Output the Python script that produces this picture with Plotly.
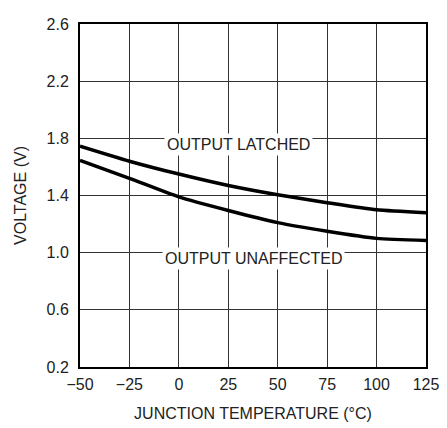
import plotly.graph_objects as go

temps = [-50, -25, 0, 25, 50, 75, 100, 125]
latched = [1.745, 1.64, 1.55, 1.47, 1.405, 1.35, 1.30, 1.28]
unaffected = [1.645, 1.52, 1.39, 1.295, 1.21, 1.15, 1.10, 1.085]
x_ticks = [-50, -25, 0, 25, 50, 75, 100, 125]
x_labels = ["\u221250", "\u221225", "0", "25", "50", "75", "100", "125"]
y_ticks = [0.2, 0.6, 1.0, 1.4, 1.8, 2.2, 2.6]
y_labels = ["0.2", "0.6", "1.0", "1.4", "1.8", "2.2", "2.6"]

FONT = "Liberation Sans Narrow, Arial Narrow, Liberation Sans, sans-serif"

fig = go.Figure()
for ys in (latched, unaffected):
    fig.add_trace(go.Scatter(x=temps, y=ys, mode="lines",
                             line=dict(color="black", width=3.5, shape="spline", smoothing=0.6),
                             showlegend=False, hoverinfo="skip"))

fig.add_annotation(x=30, y=1.755, text="OUTPUT LATCHED", showarrow=False, bgcolor="white",
                   font=dict(family=FONT, size=16, color="#222"), borderpad=2)
fig.add_annotation(x=38, y=0.96, text="OUTPUT UNAFFECTED", showarrow=False, bgcolor="white",
                   font=dict(family=FONT, size=16, color="#222"), borderpad=2)

fig.update_layout(
    width=439, height=420,
    margin=dict(l=72, r=15, t=8, b=52),
    paper_bgcolor="white", plot_bgcolor="white",
    font=dict(family=FONT, size=16, color="#222"),
    xaxis=dict(range=[-50, 125], tickvals=x_ticks, ticktext=x_labels, showgrid=True,
               gridcolor="#333", gridwidth=1, showline=True, linecolor="black", linewidth=2,
               mirror=True, zeroline=False, ticks="", ticklen=0, ticklabelstandoff=2,
               title=dict(text="JUNCTION TEMPERATURE (\u00b0C)", standoff=16, font=dict(size=16))),
    yaxis=dict(range=[0.2, 2.6], tickvals=y_ticks, ticktext=y_labels, showgrid=True,
               gridcolor="#333", gridwidth=1, showline=True, linecolor="black", linewidth=2,
               mirror=True, zeroline=False, ticks="", ticklen=0, ticklabelstandoff=6,
               title=dict(text="VOLTAGE (V)", standoff=16, font=dict(size=16))),
)

fig.write_html("out.html")
